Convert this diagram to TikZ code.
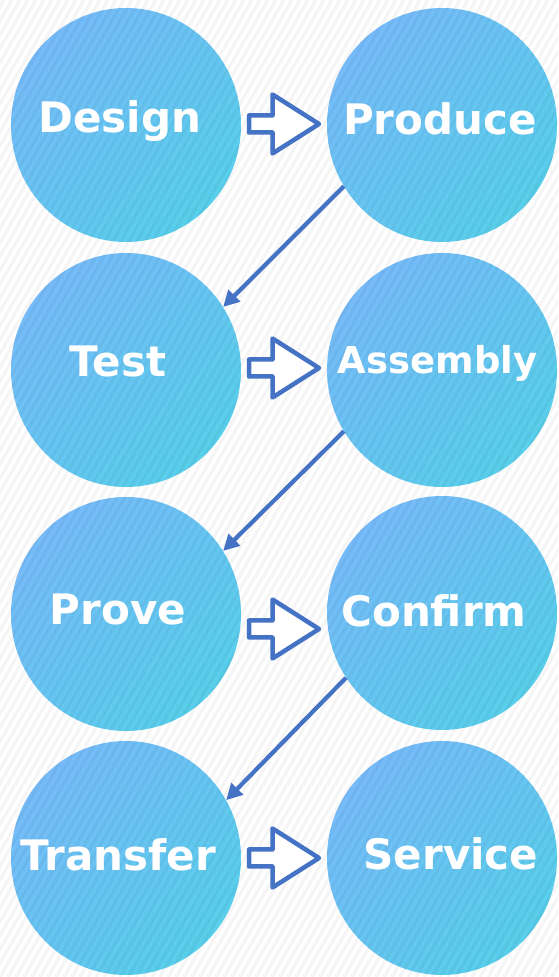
\documentclass[tikz,border=0pt]{standalone}
\usepackage{fontspec}
\setmainfont{DejaVu Sans}
\usetikzlibrary{arrows.meta,shapes.geometric}
\definecolor{cA}{RGB}{118,187,249}
\definecolor{cB}{RGB}{88,207,235}
\definecolor{arr}{RGB}{68,114,196}
\tikzset{
  stage/.style={ellipse, minimum width=230pt, minimum height=234pt, inner sep=0pt,
    left color=cA, right color=cB, shading angle=45},
  lbl/.style={anchor=base, text=white, inner sep=0pt,
    font=\bfseries\fontsize{42}{50}\selectfont},
  lblsmall/.style={lbl, font=\bfseries\fontsize{37}{44}\selectfont},
  diag/.style={draw=arr, line width=4.2pt, -{Triangle[length=16pt,width=16pt]}},
  blockarr/.pic={\draw[arr, line width=4.5pt, fill=white, line join=round]
     (-35,-8.5)--(-11.5,-8.5)--(-11.5,-29.5)--(35,0)--(-11.5,29.5)--(-11.5,8.5)--(-35,8.5)--cycle;},
  stripe/.style={line width=3pt, black, opacity=0.04}
}
\begin{document}
\begin{tikzpicture}[x=1pt,y=1pt]
\useasboundingbox (0,0) rectangle (558,977);
\fill[white] (0,0) rectangle (558,977);
% circles
\node[stage] (design)   at (126,852) {};
\node[stage] (produce)  at (442,852) {};
\node[stage] (test)     at (126,607) {};
\node[stage] (assembly) at (442,607) {};
\node[stage] (prove)    at (126,363) {};
\node[stage] (confirm)  at (442,364) {};
\node[stage] (transfer) at (126,119) {};
\node[stage] (service)  at (442,119) {};
% faint diagonal stripes
\begin{scope}
\clip (0,0) rectangle (558,977);
\foreach \c in {-600,-592,...,560}{
  \draw[stripe] (\c,0) -- ++(564,977);
}
\end{scope}
% labels
\node[lbl] (tdesign)   at (120,844) {Design};
\node[lbl] (tproduce)  at (440,842) {Produce};
\node[lbl] (ttest)     at (118,600) {Test};
\node[lblsmall] (tassembly) at (437.5,603.5) {Assembly};
\node[lbl] (tprove)    at (118,352) {Prove};
\node[lbl] (tconfirm)  at (434,350) {Confirm};
\node[lbl] (ttransfer) at (118,106) {Transfer};
\node[lbl] (tservice)  at (451,107) {Service};
% block arrows
\pic at (284,853) {blockarr};
\pic at (284,609) {blockarr};
\pic at (284,348) {blockarr};
\pic at (284,119) {blockarr};
% diagonal arrows
\draw[diag] (produce.212) -- (test.33);
\draw[diag] (assembly.212) -- (prove.33);
\draw[diag] (confirm.214) -- (transfer.30);
\end{tikzpicture}
\end{document}
